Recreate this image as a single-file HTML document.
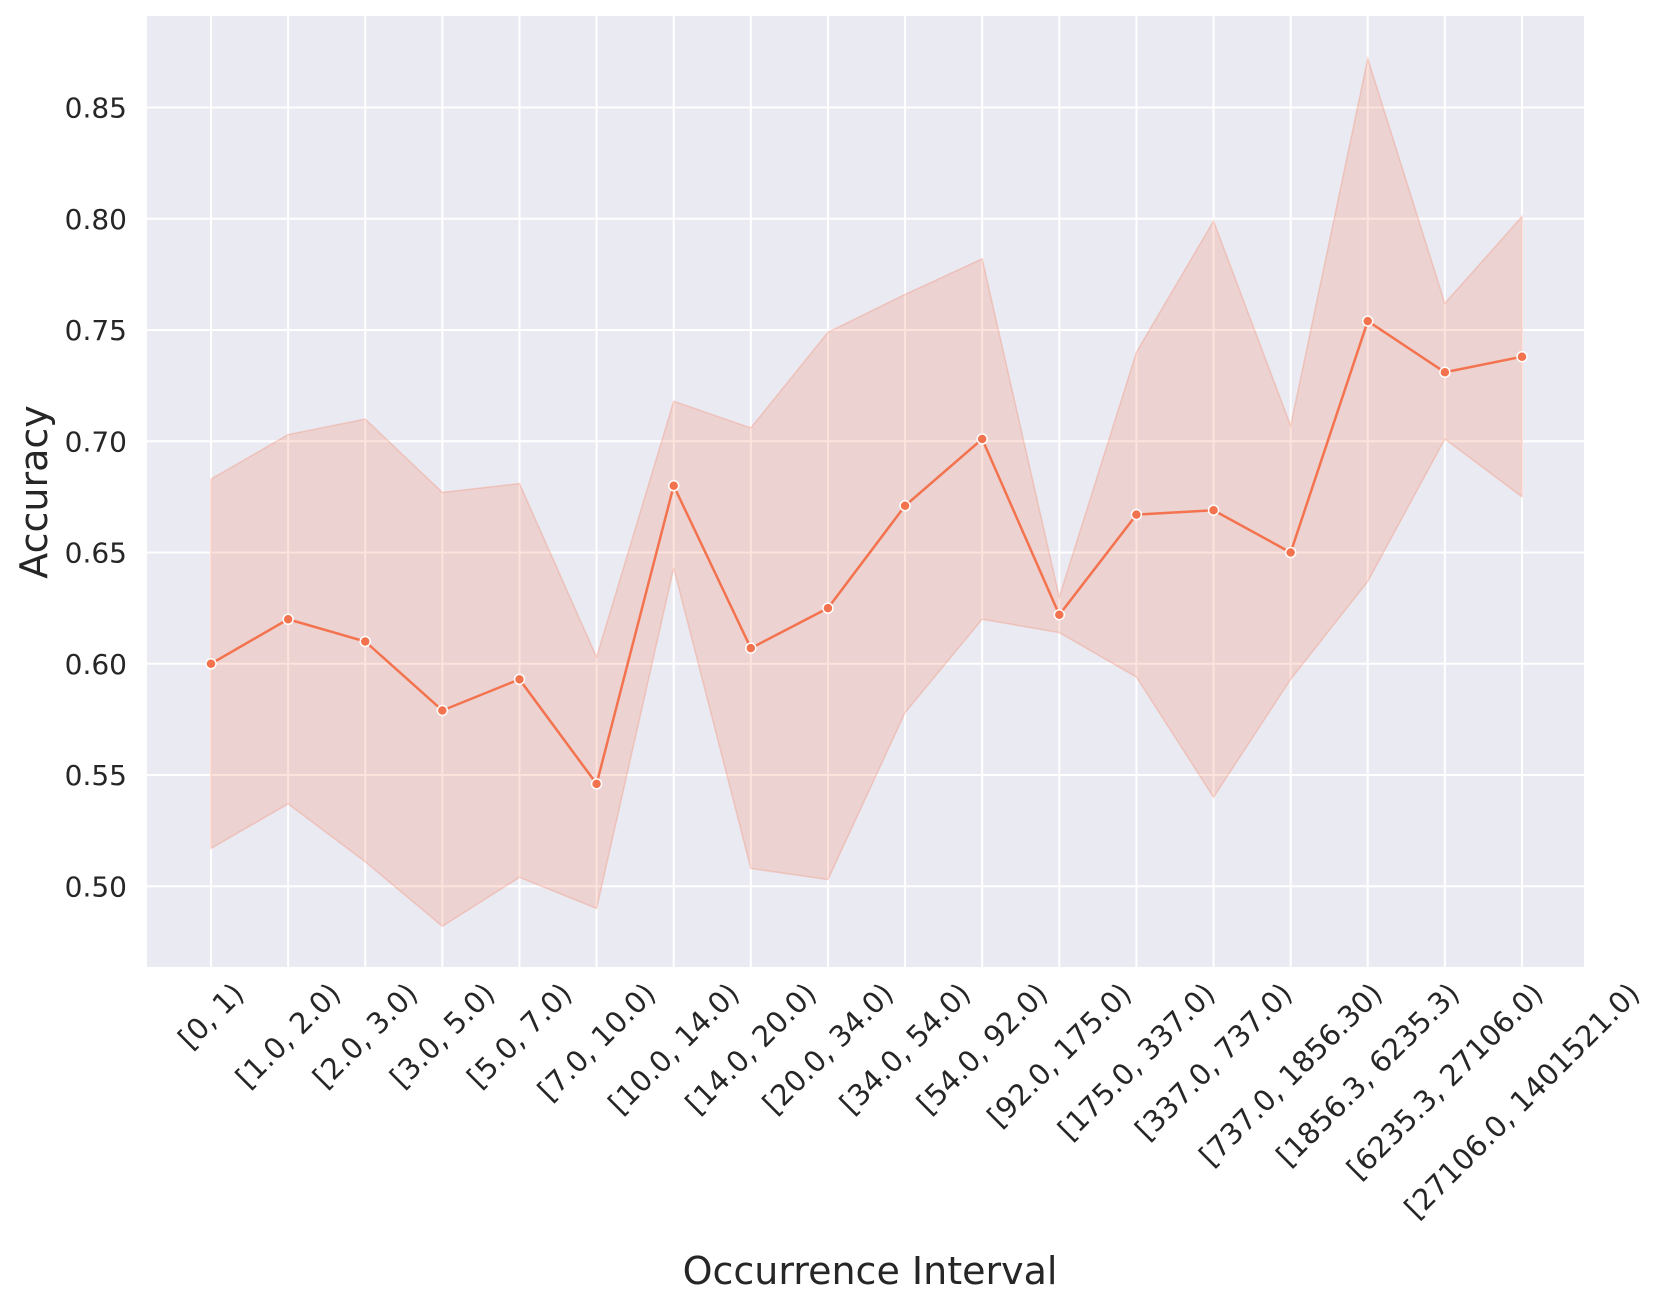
<!DOCTYPE html>
<html><head><meta charset="utf-8"><style>
html,body{margin:0;padding:0;background:#fff;}
svg{display:block;font-family:"DejaVu Sans","Liberation Sans",sans-serif;}
</style></head><body>
<svg id="chart" width="1662" height="1301" viewBox="0 0 1662 1301">
<rect x="147" y="16" width="1437" height="951" fill="#eaeaf2"/>
<g id="grid"></g>
<g id="band"></g>
<g id="line"></g>
<g id="yticks"></g>
<g id="xticks"></g>
<text x="0" y="0" transform="translate(47,492) rotate(-90)" text-anchor="middle" font-size="38" fill="#262626">Accuracy</text>
<text x="870" y="1284" text-anchor="middle" font-size="38" fill="#262626">Occurrence Interval</text>
</svg>
<script>
const categories = ["[0, 1)","[1.0, 2.0)","[2.0, 3.0)","[3.0, 5.0)","[5.0, 7.0)","[7.0, 10.0)","[10.0, 14.0)","[14.0, 20.0)","[20.0, 34.0)","[34.0, 54.0)","[54.0, 92.0)","[92.0, 175.0)","[175.0, 337.0)","[337.0, 737.0)","[737.0, 1856.30)","[1856.3, 6235.3)","[6235.3, 27106.0)","[27106.0, 1401521.0)"];
const meanValues = [0.600,0.620,0.610,0.579,0.593,0.546,0.680,0.607,0.625,0.671,0.701,0.622,0.667,0.669,0.650,0.754,0.731,0.738];
const upperValues = [0.683,0.703,0.710,0.677,0.681,0.603,0.718,0.706,0.749,0.766,0.782,0.630,0.740,0.799,0.707,0.872,0.762,0.801];
const lowerValues = [0.517,0.537,0.511,0.482,0.504,0.490,0.643,0.508,0.503,0.578,0.620,0.614,0.594,0.540,0.593,0.637,0.701,0.675];
const yTickValues = [0.50,0.55,0.60,0.65,0.70,0.75,0.80,0.85];
const yTickLabels = ["0.50","0.55","0.60","0.65","0.70","0.75","0.80","0.85"];

const NS="http://www.w3.org/2000/svg";
const PL=147,PR=1584,PT=16,PB=967;
function xPos(i){return 211 + i*(1522-211)/(categories.length-1);}
function yPos(v){return 107.5 + (0.85-v)*2225;}
function mk(tag,attrs,parent){const e=document.createElementNS(NS,tag);for(const k in attrs)e.setAttribute(k,attrs[k]);parent.appendChild(e);return e;}

const grid=document.getElementById('grid');
yTickValues.forEach((v,i)=>{
  const l=mk('line',{x1:PL,x2:PR,y1:yPos(v),y2:yPos(v),stroke:'#fff','stroke-width':2},grid);
  
  
  const t=mk('text',{x:127,y:yPos(v)+10,'text-anchor':'end','font-size':28,fill:'#262626'},document.getElementById('yticks'));
  t.textContent=yTickLabels[i];
  
  
});
categories.forEach((c,i)=>{
  const l=mk('line',{x1:xPos(i),x2:xPos(i),y1:PT,y2:PB,stroke:'#fff','stroke-width':2},grid);
  
  
});

let d='';
upperValues.forEach((v,i)=>{d+=(i?'L':'M')+xPos(i)+','+yPos(v);});
for(let i=lowerValues.length-1;i>=0;i--){d+='L'+xPos(i)+','+yPos(lowerValues[i]);}
d+='Z';
const band=mk('path',{d:d,fill:'#f4734f','fill-opacity':0.2,stroke:'#f4734f','stroke-opacity':0.25,'stroke-width':1.5},document.getElementById('band'));



const lg=document.getElementById('line');
const pts=meanValues.map((v,i)=>xPos(i)+','+yPos(v)).join(' ');
const pl=mk('polyline',{points:pts,fill:'none',stroke:'#f4734f','stroke-width':2.5},lg);


meanValues.forEach((v,i)=>{
  const c=mk('circle',{cx:xPos(i),cy:yPos(v),r:5,fill:'#f4734f',stroke:'#fff','stroke-width':1.5},lg);
  
  
});

const xt=document.getElementById('xticks');
categories.forEach((c,i)=>{
  const t=mk('text',{x:0,y:0,'text-anchor':'middle','dominant-baseline':'central','font-size':29,fill:'#262626'},xt);
  t.textContent=c;
  
  
  const w=t.getComputedTextLength();
  const h=29;
  const cy=PB+11+(w+h)*0.3536;
  t.setAttribute('transform','translate('+xPos(i)+','+cy+') rotate(-45)');
});
</script>
</body></html>
